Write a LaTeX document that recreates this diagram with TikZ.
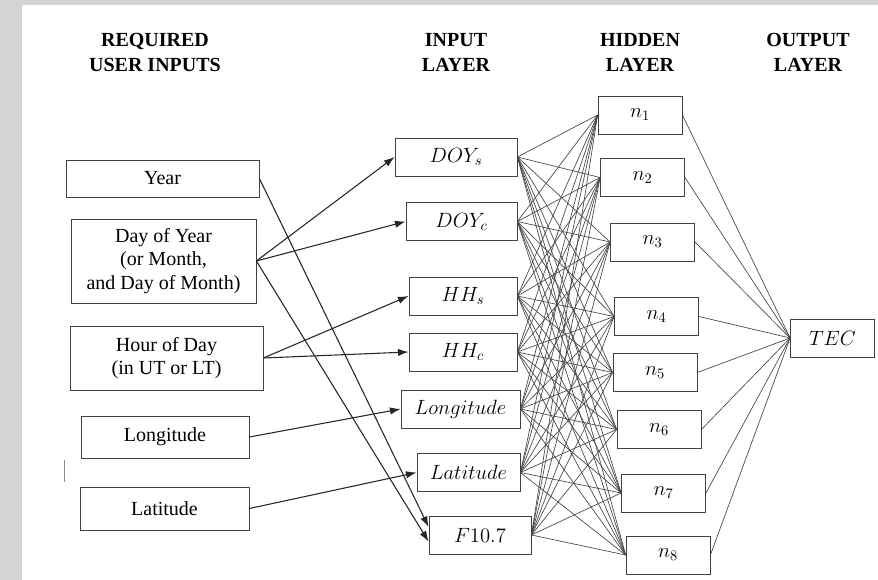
\RequirePackage{fix-cm}
\documentclass[tikz,border=0pt]{standalone}
\usepackage{fontspec}
\setmainfont{Liberation Serif}
\usepackage{tikz}
\usetikzlibrary{arrows.meta}
\tikzset{unit box/.style={
    draw=black!75,
    fill=white,
    line width=0.6pt,
    inner sep=0pt,
    minimum height=28.5pt,
    minimum width=#1,
    align=center,
    font=\fontsize{15pt}{17.5pt}\selectfont
  },
  unit box/.default=63pt,
  math box/.style={unit box=#1, font=\fontsize{15.5pt}{18pt}\selectfont},
  math box/.default=63pt,
  head/.style={align=center, font=\fontsize{15pt}{18.75pt}\selectfont\bfseries},
  feed/.style={-{Latex[length=8pt,width=5.5pt]}, line width=0.8pt, black!85},
  weight/.style={black!72, line width=0.5pt}
}
\begin{document}
\begin{tikzpicture}[x=0.75pt, y=-0.75pt]
        \useasboundingbox (0,0) rectangle (878,580);
        \fill[black!17] (0,0) rectangle (878,580);
        \fill[white] (22,5) rectangle (878,580);
        \draw[black!45] (64,460) -- (64,482);
        % column heads
        \node[head] (HeadUser) at (155,52) {REQUIRED\\USER INPUTS};
        \node[head] (HeadIn) at (456,52) {INPUT\\LAYER};
        \node[head] (HeadHid) at (640,52) {HIDDEN\\LAYER};
        \node[head] (HeadOut) at (808,52) {OUTPUT\\LAYER};
        % user inputs
        \node[unit box=144.75pt, minimum height=27.75pt] (Year) at (162.5,178.5) {Year};
        \node[unit box=138.75pt, minimum height=63pt] (DayYear) at (163.5,261) {Day of Year\\(or Month,\\and Day of Month)};
        \node[unit box=144.75pt, minimum height=48pt] (HourDay) at (166.5,358) {Hour of Day\\(in UT or LT)};
        \node[unit box=126pt, minimum height=31.5pt] (Lon) at (165,437) {Longitude};
        \node[unit box=126.75pt, minimum height=32.25pt] (Lat) at (164.5,508.5) {Latitude};
        % input layer
        \node[math box=91.5pt] (In1) at (456,157) {$DOY_s$};
        \node[math box=83.25pt] (In2) at (461.5,221.5) {$DOY_c$};
        \node[math box=81pt] (In3) at (463,296) {$HH_s$};
        \node[math box=81pt] (In4) at (463,352) {$HH_c$};
        \node[math box=89.25pt] (In5) at (460.5,409) {$Longitude$};
        \node[math box=77.25pt] (In6) at (468.5,472.5) {$Latitude$};
        \node[math box=76.5pt] (In7) at (480,535) {$F10.7$};
        % hidden and output layer
        \foreach \i/\x/\y in {1/640/115, 2/642.5/177.5, 3/652.5/242, 4/656.5/316.5,
                              5/655/372.5, 6/659/429.5, 7/663.5/493, 8/668/555}
          \node[math box] (Hid\i) at (\x,\y) {$n_{\i}$};
        \node[math box] (Out) at (832.5,338) {$TEC$};
        % weights
        \foreach \i in {1,...,7}
          \foreach \j in {1,...,8}
            \draw[weight] (In\i.east) -- (Hid\j.west);
        \foreach \j in {1,...,8}
          \draw[weight] (Hid\j.east) -- (Out.west);
        % user inputs to input layer
        \draw[feed] (Year.east) -- ([yshift=6pt]In7.west);
        \draw[feed] (DayYear.east) -- (In1.west);
        \draw[feed] (DayYear.east) -- (In2.west);
        \draw[feed] (DayYear.east) -- ([yshift=-5pt]In7.west);
        \draw[feed] (HourDay.east) -- (In3.west);
        \draw[feed] (HourDay.east) -- (In4.west);
        \draw[feed] (Lon.east) -- (In5.west);
        \draw[feed] (Lat.east) -- (In6.west);
\end{tikzpicture}
\end{document}
